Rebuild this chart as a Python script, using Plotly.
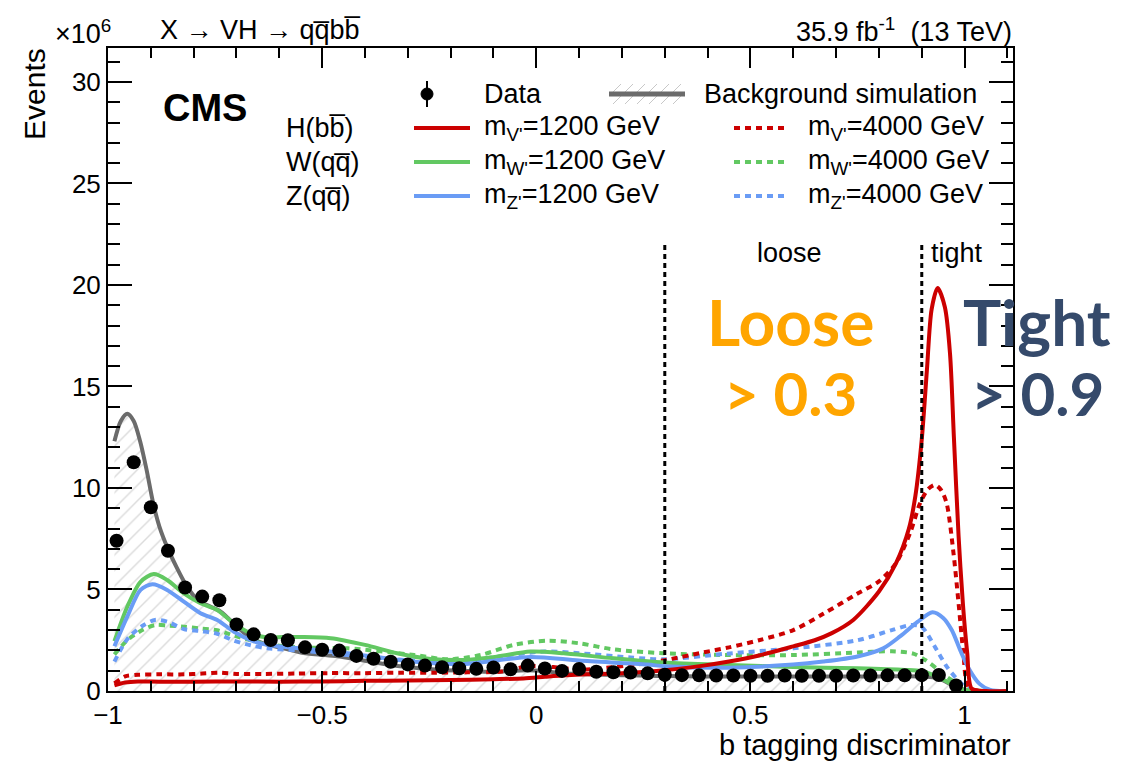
import plotly.graph_objects as go

# ---------------- data ----------------
# observed data, 0.04-wide bins
data_x = [-0.98, -0.94, -0.90, -0.86, -0.82, -0.78, -0.74, -0.70, -0.66, -0.62,
          -0.58, -0.54, -0.50, -0.46, -0.42, -0.38, -0.34, -0.30, -0.26, -0.22,
          -0.18, -0.14, -0.10, -0.06, -0.02, 0.02, 0.06, 0.10, 0.14, 0.18,
          0.22, 0.26, 0.30, 0.34, 0.38, 0.42, 0.46, 0.50, 0.54, 0.58,
          0.62, 0.66, 0.70, 0.74, 0.78, 0.82, 0.86, 0.90, 0.94, 0.98]
data_y = [7.40, 11.27, 9.05, 6.91, 5.10, 4.65, 4.47, 3.28, 2.79, 2.51,
          2.50, 2.15, 2.03, 1.99, 1.73, 1.59, 1.44, 1.31, 1.25, 1.17,
          1.12, 1.09, 1.16, 1.07, 1.25, 1.11, 0.99, 1.08, 0.95, 0.92,
          0.91, 0.87, 0.80, 0.78, 0.77, 0.76, 0.76, 0.75, 0.75, 0.76,
          0.75, 0.75, 0.75, 0.76, 0.76, 0.77, 0.77, 0.78, 0.79, 0.27]

# background simulation
bkg_x = [-0.985, -0.97, -0.955, -0.94, -0.925, -0.91, -0.895, -0.88, -0.86, -0.84,
         -0.82, -0.80, -0.78, -0.76, -0.74, -0.72, -0.70, -0.67, -0.63, -0.59,
         -0.55, -0.50, -0.46, -0.42, -0.38, -0.34, -0.30, -0.26, -0.22, -0.18,
         -0.14, -0.10, -0.06, -0.02, 0.02, 0.06, 0.10, 0.14, 0.18, 0.22,
         0.26, 0.30, 0.40, 0.50, 0.60, 0.70, 0.80, 0.86, 0.90, 0.93,
         0.95, 0.97, 0.99, 1.01, 1.04, 1.10]
bkg_y = [12.3, 13.3, 13.65, 13.3, 12.3, 10.9, 9.3, 8.1, 7.0, 6.1,
         5.3, 4.7, 4.35, 4.15, 3.95, 3.6, 3.2, 2.65, 2.3, 2.1,
         1.9, 1.78, 1.7, 1.56, 1.42, 1.28, 1.18, 1.1, 1.03, 1.0,
         0.97, 0.95, 0.98, 1.02, 0.97, 0.88, 0.84, 0.81, 0.79, 0.77,
         0.75, 0.74, 0.72, 0.71, 0.71, 0.71, 0.72, 0.73, 0.72, 0.66,
         0.52, 0.3, 0.1, 0.02, 0.0, 0.0]

# H(bb) signal, m = 1200 GeV
hbb1200_x = [-0.985, -0.96, -0.93, -0.88, -0.80, -0.70, -0.60, -0.50, -0.40, -0.30,
             -0.20, -0.10, -0.03, 0.02, 0.06, 0.12, 0.20, 0.30, 0.39, 0.45,
             0.52, 0.60, 0.65, 0.69, 0.74, 0.80, 0.84, 0.87, 0.885, 0.90,
             0.912, 0.923, 0.937, 0.954, 0.966, 0.975, 0.986, 0.996, 1.006, 1.017,
             1.05, 1.10]
hbb1200_y = [0.28, 0.42, 0.47, 0.46, 0.46, 0.47, 0.46, 0.47, 0.50, 0.52,
             0.54, 0.58, 0.62, 0.70, 0.76, 0.82, 0.88, 1.02, 1.25, 1.45,
             1.75, 2.2, 2.5, 2.85, 3.5, 4.9, 6.3, 8.0, 9.6, 12.4,
             15.8, 18.8, 19.85, 18.9, 16.6, 12.5, 7.6, 4.3, 1.9, 0.1,
             0.0, 0.0]

# H(bb) signal, m = 4000 GeV
hbb4000_x = [-0.985, -0.96, -0.93, -0.88, -0.82, -0.78, -0.74, -0.70, -0.64, -0.56,
             -0.48, -0.40, -0.32, -0.24, -0.16, -0.08, -0.02, 0.04, 0.10, 0.18,
             0.24, 0.30, 0.39, 0.45, 0.52, 0.60, 0.67, 0.75, 0.80, 0.84,
             0.873, 0.896, 0.915, 0.931, 0.945, 0.958, 0.974, 0.986, 0.997, 1.009,
             1.04, 1.10]
hbb4000_y = [0.38, 0.72, 0.80, 0.82, 0.82, 0.86, 0.90, 0.84, 0.84, 0.86,
             0.88, 0.88, 0.90, 0.90, 0.92, 0.96, 1.22, 1.18, 1.05, 1.18,
             1.32, 1.52, 1.90, 2.15, 2.5, 3.0, 3.8, 4.8, 5.4, 6.3,
             7.8, 9.25, 9.95, 10.15, 9.9, 9.25, 6.8, 4.3, 1.9, 0.2,
             0.0, 0.0]

# W(qq) signal, m = 1200 GeV
wqq1200_x = [-0.985, -0.955, -0.924, -0.893, -0.862, -0.823, -0.784, -0.745, -0.706, -0.667,
             -0.628, -0.59, -0.55, -0.48, -0.40, -0.325, -0.247, -0.17, -0.092, -0.014,
             0.064, 0.18, 0.30, 0.45, 0.60, 0.75, 0.86, 0.90, 0.935, 0.96,
             0.978, 1.00, 1.03, 1.10]
wqq1200_y = [2.45, 4.15, 5.38, 5.76, 5.47, 4.81, 4.32, 3.99, 3.33, 2.84,
             2.64, 2.66, 2.66, 2.6, 2.27, 1.86, 1.58, 1.53, 1.69, 1.94,
             1.86, 1.61, 1.40, 1.28, 1.18, 1.12, 1.04, 0.97, 0.72, 0.45,
             0.26, 0.06, 0.0, 0.0]

# W(qq) signal, m = 4000 GeV
wqq4000_x = [-0.985, -0.955, -0.92, -0.89, -0.86, -0.823, -0.784, -0.745, -0.706, -0.667,
             -0.628, -0.551, -0.44, -0.285, -0.207, -0.13, -0.053, 0.025, 0.10, 0.18,
             0.296, 0.445, 0.60, 0.75, 0.83, 0.88, 0.91, 0.935, 0.958, 0.99,
             1.02, 1.10]
wqq4000_y = [1.8, 2.5, 3.0, 3.25, 3.22, 3.17, 3.08, 2.99, 2.73, 2.5,
             2.3, 2.15, 2.1, 1.77, 1.56, 1.77, 2.27, 2.48, 2.35, 2.05,
             1.86, 1.77, 1.77, 1.9, 1.96, 1.84, 1.5, 1.1, 0.7, 0.3,
             0.05, 0.0]

# Z(qq) signal, m = 1200 GeV
zqq1200_x = [-0.985, -0.955, -0.924, -0.896, -0.862, -0.823, -0.784, -0.745, -0.706, -0.667,
             -0.628, -0.55, -0.44, -0.285, -0.17, -0.014, 0.10, 0.26, 0.30, 0.45,
             0.60, 0.67, 0.75, 0.81, 0.85, 0.89, 0.925, 0.95, 0.97, 0.99,
             1.01, 1.035, 1.06, 1.10]
zqq1200_y = [2.2, 3.66, 4.98, 5.26, 4.98, 4.40, 3.83, 3.50, 2.92, 2.51,
             2.27, 2.10, 1.86, 1.44, 1.33, 1.68, 1.50, 1.30, 1.22, 1.15,
             1.30, 1.45, 1.70, 2.1, 2.7, 3.4, 3.88, 3.6, 3.0, 2.0,
             1.1, 0.35, 0.05, 0.0]

# Z(qq) signal, m = 4000 GeV
zqq4000_x = [-0.985, -0.955, -0.92, -0.89, -0.86, -0.823, -0.784, -0.745, -0.706, -0.667,
             -0.628, -0.551, -0.44, -0.285, -0.17, -0.09, 0.02, 0.10, 0.22, 0.30,
             0.445, 0.60, 0.75, 0.83, 0.875, 0.90, 0.93, 0.96, 0.992, 1.015,
             1.10]
zqq4000_y = [1.45, 2.55, 3.2, 3.5, 3.4, 3.05, 2.95, 2.82, 2.48, 2.25,
             2.1, 1.99, 1.77, 1.5, 1.45, 1.69, 1.95, 1.86, 1.65, 1.56,
             1.84, 2.1, 2.5, 3.0, 3.25, 3.15, 2.2, 1.15, 0.38, 0.05,
             0.0]

# working points of the discriminator
wp_names = ["loose", "tight"]
wp_cuts = [0.3, 0.9]
wp_line_top = 22.0

x_range = [-1.0, 1.113]
y_range = [0.0, 31.67]

# ---------------- style ----------------
FONT = "Liberation Sans, Arial, Helvetica, sans-serif"
RED = "#cc0000"
GREEN = "#62c862"
BLUE = "#6a9cf5"
GRAY = "#6b6b6b"
DASH_SIG = "6px,5px"

W, H = 1138, 763
PL, PR, PT, PB = 108, 1013, 48, 691  # plot frame in page pixels


def px(x):
    return (x - PL) / (PR - PL)


def py(y):
    return (PB - y) / (PB - PT)


fig = go.Figure()

fig.add_trace(go.Scatter(
    x=bkg_x, y=bkg_y, mode="lines", name="Background simulation",
    line=dict(color=GRAY, width=4, shape="spline", smoothing=0.8),
    fill="tozeroy",
    fillpattern=dict(shape="/", fgcolor="#b8b8b8", bgcolor="white",
                     size=11, solidity=0.13),
))

signals = [
    (wqq4000_x, wqq4000_y, GREEN, DASH_SIG),
    (zqq4000_x, zqq4000_y, BLUE, DASH_SIG),
    (hbb4000_x, hbb4000_y, RED, DASH_SIG),
    (wqq1200_x, wqq1200_y, GREEN, "solid"),
    (zqq1200_x, zqq1200_y, BLUE, "solid"),
    (hbb1200_x, hbb1200_y, RED, "solid"),
]
for sx, sy, col, dash in signals:
    fig.add_trace(go.Scatter(
        x=sx, y=sy, mode="lines",
        line=dict(color=col, width=4, dash=dash, shape="spline", smoothing=0.8),
    ))

fig.add_trace(go.Scatter(
    x=data_x, y=data_y, mode="markers", name="Data",
    marker=dict(size=14, color="black"),
))

# working point cut lines
shapes = []
for cut in wp_cuts:
    shapes.append(dict(type="line", xref="x", yref="y", x0=cut, x1=cut,
                       y0=0, y1=wp_line_top, layer="above",
                       line=dict(color="black", width=3, dash="5px,4px")))

annotations = []


def ann(text, x, y, size=27, xanchor="left", yanchor="middle", color="black",
        family=FONT, **kw):
    annotations.append(dict(text=text, x=px(x), y=py(y), xref="paper", yref="paper",
                            xanchor=xanchor, yanchor=yanchor, showarrow=False,
                            font=dict(size=size, color=color, family=family), **kw))


# working point labels
wp_label_x = [0.592, 0.982]
for name, lx in zip(wp_names, wp_label_x):
    annotations.append(dict(text=name, x=lx, y=21.55, xref="x", yref="y",
                            xanchor="center", yanchor="middle", showarrow=False,
                            font=dict(size=27, family=FONT, color="black")))

# header texts
ann("\u00d710<sup>6</sup>", 53, 32, size=27)
ann("X \u2192 VH \u2192 qq\u0305bb\u0305", 158, 30, size=27)
ann("35.9 fb<sup>-1</sup>  (13 TeV)", 1014, 30, size=27, xanchor="right")
ann("<b>CMS</b>", 161, 108, size=38)

# axis titles
ann("b tagging discriminator", 1013, 745, size=29, xanchor="right")
ann("Events", 34, 46, size=30, xanchor="center", yanchor="top", textangle=-90)

# legend
ROW = [94, 128, 162, 196]
ann("Data", 482, ROW[0])
ann("Background simulation", 702, ROW[0])
row_names = ["H(bb\u0305)", "W(qq\u0305)", "Z(qq\u0305)"]
row_sub = ["V'", "W'", "Z'"]
row_col = [RED, GREEN, BLUE]
for i in range(3):
    yy = ROW[i + 1]
    ann(row_names[i], 284, yy)
    ann("m<sub>%s</sub>=1200 GeV" % row_sub[i], 482, yy)
    ann("m<sub>%s</sub>=4000 GeV" % row_sub[i], 806, yy)
    shapes.append(dict(type="line", xref="paper", yref="paper",
                       x0=px(414), x1=px(470), y0=py(yy), y1=py(yy),
                       line=dict(color=row_col[i], width=4)))
    shapes.append(dict(type="line", xref="paper", yref="paper",
                       x0=px(734), x1=px(787), y0=py(yy), y1=py(yy),
                       line=dict(color=row_col[i], width=4, dash=DASH_SIG)))

# legend: data marker with error bar
shapes.append(dict(type="line", xref="paper", yref="paper",
                   x0=px(427), x1=px(427), y0=py(ROW[0] - 13), y1=py(ROW[0] + 13),
                   line=dict(color="black", width=2)))
shapes.append(dict(type="circle", xref="paper", yref="paper",
                   x0=px(421), x1=px(433), y0=py(ROW[0] + 6), y1=py(ROW[0] - 6),
                   fillcolor="black", line=dict(color="black", width=1)))

# legend: hatched background box with line
bx0, bx1, by_top, by_bot = 609, 685, ROW[0] - 10, ROW[0] + 10
hh = by_bot - by_top
xb = bx0 - hh
while xb < bx1:
    x_start, y_start = xb, by_bot
    x_end, y_end = xb + hh, by_top
    if x_start < bx0:
        y_start = by_bot - (bx0 - x_start)
        x_start = bx0
    if x_end > bx1:
        y_end = by_top + (x_end - bx1)
        x_end = bx1
    if x_end > x_start:
        shapes.append(dict(type="line", xref="paper", yref="paper",
                           x0=px(x_start), x1=px(x_end), y0=py(y_start), y1=py(y_end),
                           line=dict(color="#c8c8c8", width=1)))
    xb += 12
shapes.append(dict(type="line", xref="paper", yref="paper",
                   x0=px(bx0), x1=px(bx1), y0=py(ROW[0]), y1=py(ROW[0]),
                   line=dict(color=GRAY, width=5)))

# working point call-outs
BIG = "Lato, Noto Sans, sans-serif"
annotations.append(dict(text="Loose", x=px(790), y=py(321), xref="paper", yref="paper",
                        xanchor="center", yanchor="middle", showarrow=False,
                        font=dict(size=64, color="#ffa500", family=BIG, weight=700)))
annotations.append(dict(text="> 0.3", x=px(790), y=py(393), xref="paper", yref="paper",
                        xanchor="center", yanchor="middle", showarrow=False,
                        font=dict(size=60, color="#ffa500", family=BIG, weight=700)))
annotations.append(dict(text="Tight", x=px(1037), y=py(321), xref="paper", yref="paper",
                        xanchor="center", yanchor="middle", showarrow=False,
                        font=dict(size=64, color="#354a6b", family=BIG, weight=700)))
annotations.append(dict(text="> 0.9", x=px(1037), y=py(393), xref="paper", yref="paper",
                        xanchor="center", yanchor="middle", showarrow=False,
                        font=dict(size=60, color="#354a6b", family=BIG, weight=700)))

axis_common = dict(showline=True, linecolor="black", linewidth=2, mirror="ticks",
                   ticks="inside", tickcolor="black", tickwidth=2,
                   showgrid=False, zeroline=False,
                   tickfont=dict(size=26, family=FONT, color="black"))

fig.update_layout(
    width=W, height=H,
    margin=dict(l=PL, r=W - PR, t=PT, b=H - PB, pad=0),
    paper_bgcolor="white", plot_bgcolor="white",
    showlegend=False,
    xaxis=dict(range=x_range, tickvals=[-1, -0.5, 0, 0.5, 1], ticklen=20,
               minor=dict(dtick=0.1, tick0=0, ticklen=10, ticks="inside",
                          tickcolor="black", tickwidth=2),
               **axis_common),
    yaxis=dict(range=y_range, tickvals=[0, 5, 10, 15, 20, 25, 30], ticklen=24,
               minor=dict(dtick=1, tick0=0, ticklen=12, ticks="inside",
                          tickcolor="black", tickwidth=2),
               **axis_common),
    shapes=shapes,
    annotations=annotations,
)

fig.write_html("out.html")
